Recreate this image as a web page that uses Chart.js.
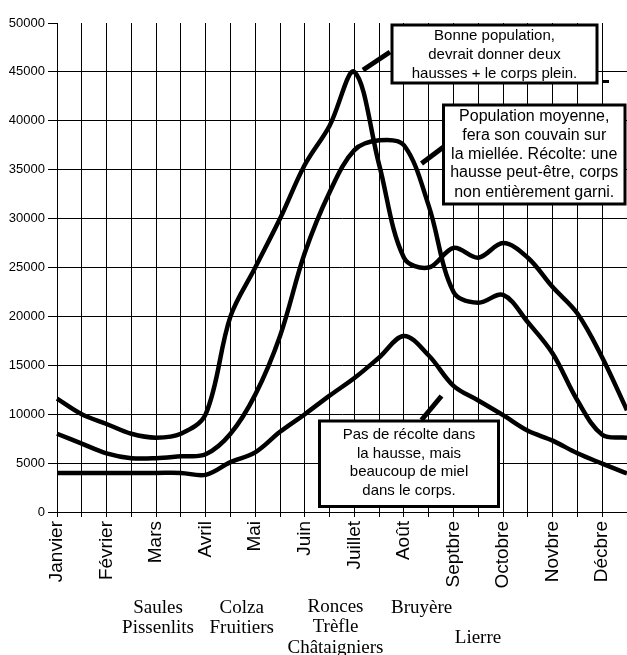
<!DOCTYPE html>
<html><head><meta charset="utf-8">
<script src="https://cdn.jsdelivr.net/npm/chart.js@4/dist/chart.umd.min.js"></script>
<style>html,body{margin:0;padding:0;background:#fff;overflow:hidden}#wrap{width:627px;height:655px;position:relative}</style>
</head><body><div id="wrap"><canvas id="c" width="627" height="655"></canvas></div>
<script>
// Categories: half-month steps, label on every other one
const monthLabels = ['Janvier','','Février','','Mars','','Avril','','Mai','','Juin','',
  'Juillet','','Août','','Septbre','','Octobre','','Novbre','','Décbre',''];
// Series values (bees)
const bonnePopulation = [11600,10000,9000,8000,7600,8000,10000,20000,25000,30000,35500,39500,
  45000,35500,26000,25000,27000,26000,27500,26000,23000,20300,15800,10400];
const populationMoyenne = [8000,7000,6000,5500,5500,5700,5900,8000,12000,18000,26500,32700,
  37000,38000,37500,31300,22500,21400,22200,19400,16200,11400,7900,7600];
const faiblePopulation = [4000,4000,4000,4000,4000,4000,3800,5100,6100,8200,10000,11900,
  13700,15800,18000,16000,12900,11400,9900,8300,7300,6000,4950,3950];
// Y axis ticks
const yMin = 0, yMax = 50000, yStep = 5000;
// Notes
const noteBonne = ['Bonne population,','devrait donner deux','hausses + le corps plein.'];
const noteMoyenne = ['Population moyenne,','fera son couvain sur','la miellée. Récolte: une','hausse peut-être, corps','non entièrement garni.'];
const noteFaible = ['Pas de récolte dans','la hausse, mais','beaucoup de miel','dans le corps.'];
const flowers = [['Saules','Pissenlits'],['Colza','Fruitiers'],['Ronces','Trèfle','Châtaigniers'],['Bruyère'],['Lierre']];

const boxLayout = [
  {lines: noteBonne, x:392, y:25, w:205, h:58, font:'15px "Liberation Sans"', ys:[36,55,73.5], leader:[363,70,390,52]},
  {lines: noteMoyenne, x:443.5, y:105, w:181.5, h:99, font:'16px "Liberation Sans"', ys:[116.7,135.5,154.3,173,192.5], leader:[421.5,163.5,443.5,147]},
  {lines: noteFaible, x:319.5, y:421, w:179, h:85.5, font:'15px "Liberation Sans"', ys:[435,453.5,472.3,490.7], leader:[421.5,420,441.5,396]}
];
const flowerLayout = [
  {cx:158, ys:[608,628]},
  {cx:241.7, ys:[608,628]},
  {cx:335.5, ys:[607,627,648]},
  {cx:421.7, ys:[608]},
  {cx:478, ys:[638]}
];

const notesPlugin = {
  id: 'notes',
  afterDraw(chart) {
    const ctx = chart.ctx;
    ctx.save();
    boxLayout.forEach(b => {
      ctx.lineCap = 'butt';
      ctx.strokeStyle = '#000';
      ctx.lineWidth = 5;
      ctx.beginPath();
      ctx.moveTo(b.leader[0], b.leader[1]);
      ctx.lineTo(b.leader[2], b.leader[3]);
      ctx.stroke();
      ctx.fillStyle = '#fff';
      ctx.fillRect(b.x, b.y, b.w, b.h);
      ctx.lineWidth = 3;
      ctx.strokeRect(b.x, b.y, b.w, b.h);
      ctx.fillStyle = '#000';
      ctx.font = b.font;
      ctx.textAlign = 'center';
      ctx.textBaseline = 'middle';
      b.lines.forEach((t, i) => ctx.fillText(t, b.x + b.w / 2, b.ys[i]));
    });
    // small dash
    ctx.fillStyle = '#000';
    ctx.fillRect(603, 80, 6, 3);
    ctx.font = '19px "Liberation Serif"';
    ctx.textAlign = 'center';
    ctx.textBaseline = 'middle';
    flowers.forEach((grp, i) => {
      const f = flowerLayout[i];
      grp.forEach((t, j) => ctx.fillText(t, f.cx, f.ys[j]));
    });
    ctx.restore();
  }
};

const lineStyle = {borderColor:'#000', borderWidth:4.5, pointRadius:0, tension:0.35, fill:false};

new Chart(document.getElementById('c'), {
  type: 'line',
  data: {
    labels: monthLabels,
    datasets: [
      Object.assign({label:'Bonne population', data: bonnePopulation}, lineStyle),
      Object.assign({label:'Population moyenne', data: populationMoyenne}, lineStyle),
      Object.assign({label:'Faible population', data: faiblePopulation}, lineStyle)
    ]
  },
  options: {
    responsive: false,
    animation: false,
    devicePixelRatio: 1,
    layout: {padding: {top: 23, left: 0, right: 0, bottom: 0}},
    plugins: {legend: {display: false}, tooltip: {enabled: false}},
    scales: {
      x: {
        offset: false,
        grid: {color: '#000', lineWidth: 1, tickLength: 5, drawTicks: true},
        border: {color: '#000', width: 1},
        ticks: {autoSkip: false, maxRotation: 90, minRotation: 90, padding: 4,
          color: '#000', font: {family: '"Liberation Sans"', size: 19}},
        afterFit(s) { s.height = 143; s.paddingLeft = 0; s.paddingRight = 0; }
      },
      y: {
        min: yMin, max: yMax,
        grid: {color: c => (c.tick && c.tick.value === yMax) ? 'rgba(0,0,0,0)' : '#000',
          tickColor: '#000', lineWidth: 1, tickLength: 9},
        border: {color: '#000', width: 1},
        ticks: {stepSize: yStep, padding: 3, color: '#000',
          font: {family: '"Liberation Sans"', size: 13},
          callback: v => String(v)},
        afterFit(s) { s.width = 57; s.paddingTop = 0; s.paddingBottom = 0; }
      }
    }
  },
  plugins: [notesPlugin]
});
</script></body></html>
